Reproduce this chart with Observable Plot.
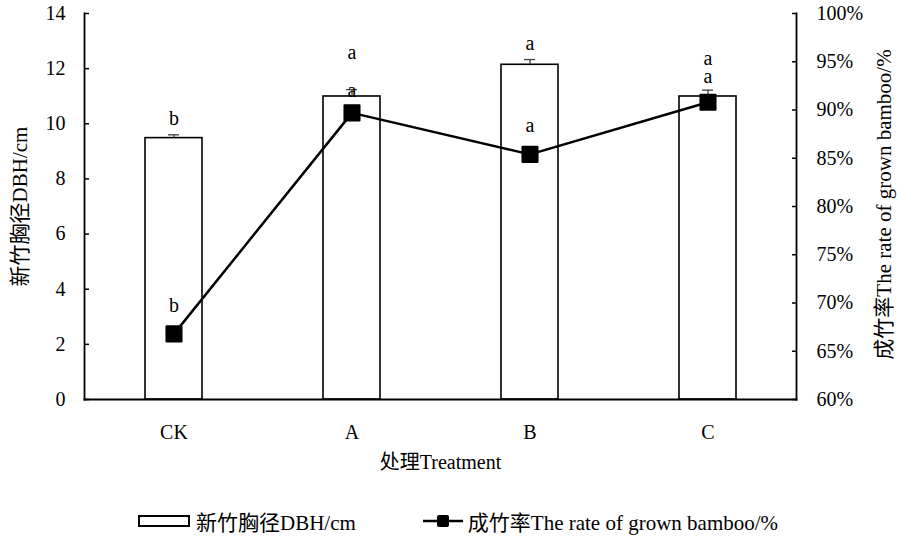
<!DOCTYPE html>
<html><head><meta charset="utf-8">
<script src="https://cdn.jsdelivr.net/npm/d3@7"></script>
<script src="https://cdn.jsdelivr.net/npm/@observablehq/plot@0.6"></script>
<style>
body{margin:0;background:#fff;}
#wrap{position:relative;width:897px;height:537px;font-family:"Liberation Serif","Times New Roman","Noto Sans CJK SC",serif;color:#000;}
#legend{position:absolute;left:138px;top:510px;display:flex;align-items:center;font-size:21px;height:22px;white-space:nowrap;}
#legend svg{display:block;}
</style></head><body>
<div id="wrap"><div id="chart"></div>
<div id="legend">
<svg width="52" height="12"><rect x="1" y="1" width="50" height="10" fill="white" stroke="black" stroke-width="2"/></svg>
<span style="margin-left:6px">新竹胸径DBH/cm</span>
<svg width="40" height="16" style="margin-left:67px"><line x1="0" y1="8" x2="40" y2="8" stroke="black" stroke-width="2.5"/><rect x="14" y="2" width="12" height="12" rx="2" fill="black"/></svg>
<span style="margin-left:5px">成竹率The rate of grown bamboo/%</span>
</div></div>
<script>
const treatments = ["CK", "A", "B", "C"];
const dbh = [9.48, 10.99, 12.14, 10.99];
const dbhErr = [0.12, 0.25, 0.19, 0.23];
const dbhLetters = ["b", "a", "a", "a"];
const dbhLetterAt = [10.20, 12.59, 12.92, 12.38];
const rate = [66.8, 89.7, 85.4, 90.8];
const rateLetters = ["b", "a", "a", "a"];
const rateLetterAt = [69.7, 92.0, 88.4, 93.5];
const leftTicks = [0, 2, 4, 6, 8, 10, 12, 14];
const rightTicks = [60, 65, 70, 75, 80, 85, 90, 95, 100];

const yMax = 14, pMin = 60, pMax = 100;
const toY = p => (p - pMin) / (pMax - pMin) * yMax;
const rows = treatments.map((t, i) => ({
  t, dbh: dbh[i], top: dbh[i] + dbhErr[i], dl: dbhLetters[i], dla: dbhLetterAt[i],
  rateY: toY(rate[i]), rl: rateLetters[i], rla: toY(rateLetterAt[i])
}));
const font = '"Liberation Serif","Times New Roman","Noto Sans CJK SC",serif';

const chart = Plot.plot({
  width: 897, height: 470,
  marginLeft: 84, marginRight: 101, marginTop: 13, marginBottom: 71,
  style: {fontFamily: font, fontSize: "20px", color: "#000", background: "#fff", overflow: "visible"},
  x: {domain: treatments, paddingInner: 0.68, paddingOuter: 0.34, label: null},
  y: {domain: [0, yMax], label: null},
  marks: [
    Plot.barY(rows, {x: "t", y: "dbh", fill: "white", stroke: "black", strokeWidth: 1.6}),
    Plot.ruleX(rows, {x: "t", y1: "dbh", y2: "top", stroke: "#404040", strokeWidth: 1.3}),
    Plot.tickY(rows, {x: "t", y: "top", stroke: "#404040", strokeWidth: 1.3, insetLeft: 23, insetRight: 23}),
    Plot.line(rows, {x: "t", y: "rateY", stroke: "black", strokeWidth: 2.5}),
    Plot.dot(rows, {x: "t", y: "rateY", symbol: "square", r: 8.5, fill: "black", stroke: "black", strokeWidth: 2, strokeLinejoin: "round"}),
    Plot.text(rows, {x: "t", y: "dla", text: "dl", fontSize: 20, fill: "black"}),
    Plot.text(rows, {x: "t", y: "rla", text: "rl", fontSize: 20, fill: "black"}),
    Plot.axisY(leftTicks, {anchor: "left", tickSize: -5, tickPadding: 24, strokeWidth: 1.5, label: null}),
    Plot.axisY(rightTicks.map(toY), {anchor: "right", tickSize: -5, tickPadding: 25, strokeWidth: 1.5, label: null,
      tickFormat: d => Math.round(d / yMax * (pMax - pMin) + pMin) + "%"}),
    Plot.axisX({tickSize: 0, tickPadding: 25, label: null}),
    Plot.frame({anchor: "left", strokeWidth: 1.8}),
    Plot.frame({anchor: "right", strokeWidth: 1.8}),
    Plot.frame({anchor: "bottom", strokeWidth: 1.8}),
    Plot.text(["新竹胸径DBH/cm"], {frameAnchor: "left", textAnchor: "middle", lineAnchor: "middle", rotate: -90, dx: -64, fontSize: 21, fill: "black"}),
    Plot.text(["成竹率The rate of grown bamboo/%"], {frameAnchor: "right", textAnchor: "middle", lineAnchor: "middle", rotate: -90, dx: 88, dy: -2, fontSize: 21, fill: "black"}),
    Plot.text(["处理Treatment"], {frameAnchor: "bottom", textAnchor: "middle", lineAnchor: "middle", dy: 63, fontSize: 20, fill: "black"})
  ]
});
document.getElementById("chart").appendChild(chart);
</script>
</body></html>
